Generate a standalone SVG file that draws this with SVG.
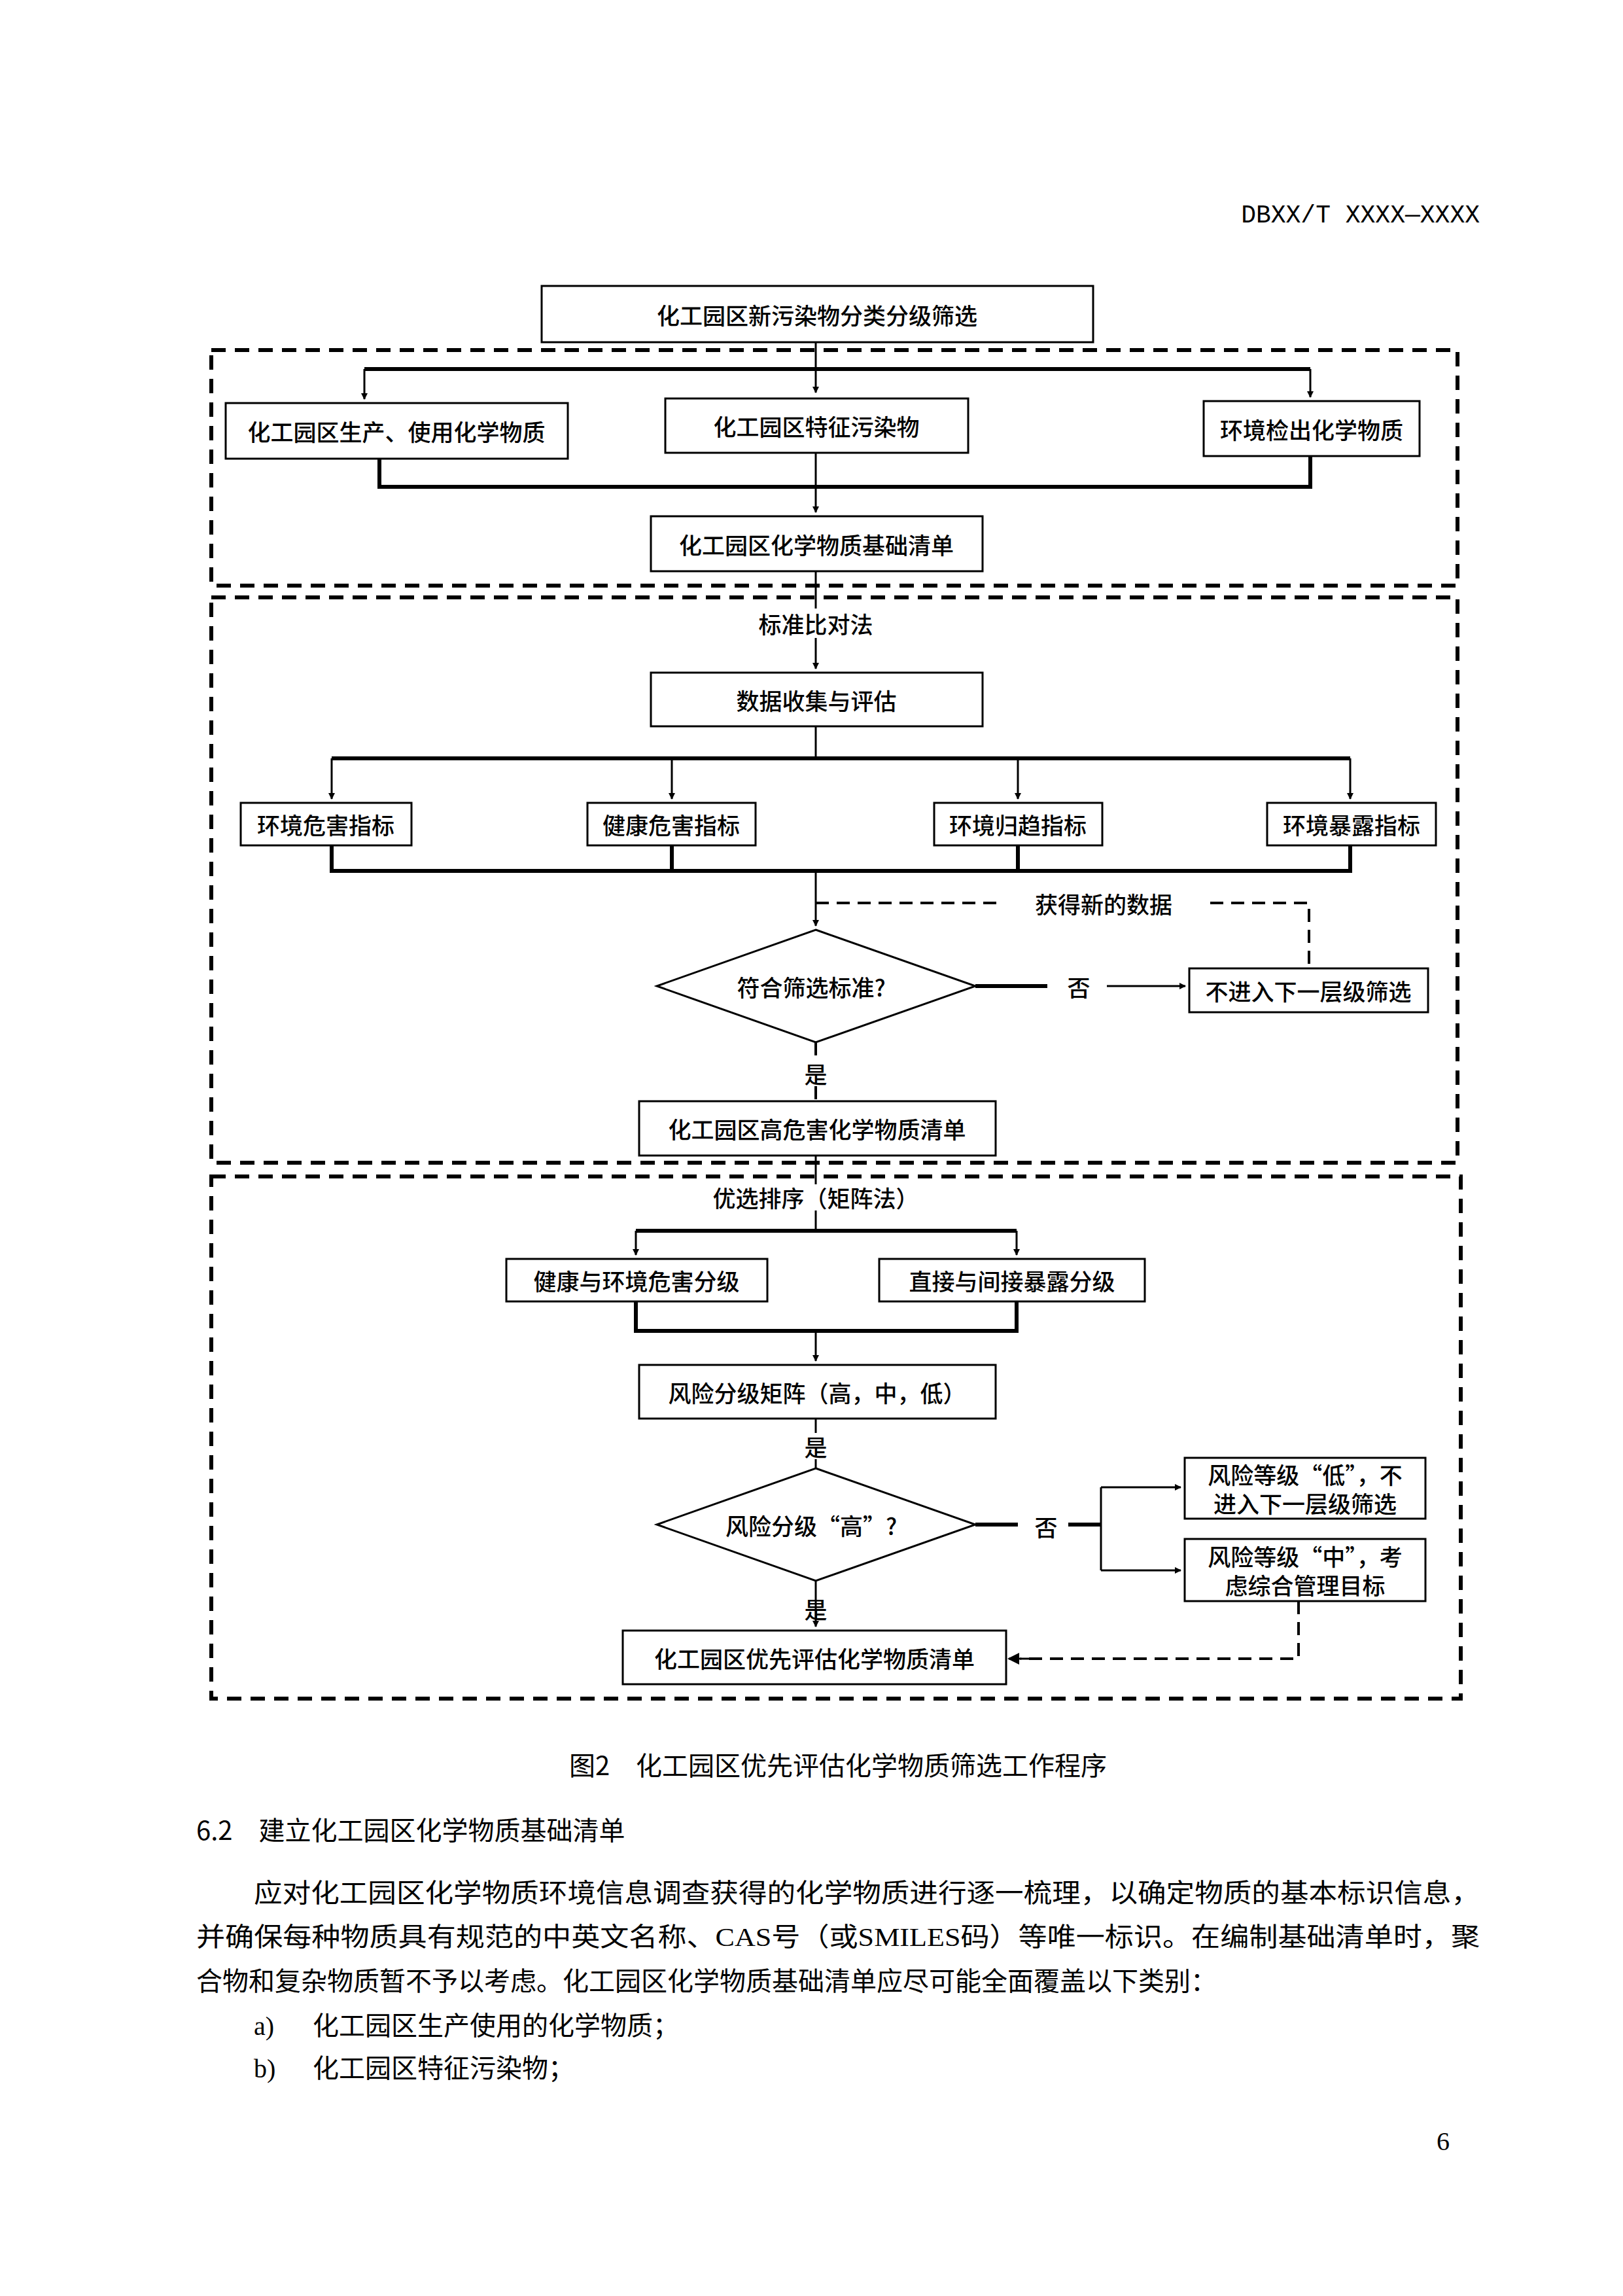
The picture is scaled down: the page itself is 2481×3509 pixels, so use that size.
<svg xmlns="http://www.w3.org/2000/svg" width="2481" height="3509" viewBox="0 0 2481 3509">
<style>
.n{fill:#fff;stroke:#000;stroke-width:3}
.t{font-family:"Noto Sans CJK SC",sans-serif;font-size:35px;font-weight:500;fill:#000;text-anchor:middle;dominant-baseline:central}
.b{font-family:"Liberation Serif","Noto Sans CJK SC",serif;font-size:40px;fill:#000}
.h{font-family:"Noto Sans CJK SC",sans-serif;font-size:40px;fill:#000}
.l{fill:none;stroke:#000;stroke-width:3}
.k{fill:none;stroke:#000;stroke-width:6}
.d{fill:none;stroke:#000;stroke-width:6;stroke-dasharray:22 14}
.dl{fill:none;stroke:#000;stroke-width:4;stroke-dasharray:20 12}
</style>
<defs><marker id="a" markerWidth="10" markerHeight="10" refX="9" refY="5" orient="auto" markerUnits="userSpaceOnUse" viewBox="0 0 10 10"><path d="M0,0L10,5L0,10z" fill="#000"/></marker>
<marker id="a2" markerWidth="18" markerHeight="18" refX="16" refY="9" orient="auto" markerUnits="userSpaceOnUse" viewBox="0 0 18 18"><path d="M0,0L18,9L0,18z" fill="#000"/></marker></defs>
<rect width="2481" height="3509" fill="#fff"/>
<text x="2262" y="340" class="h" text-anchor="end" style="font-family:'Liberation Mono',monospace;font-size:38px">DBXX/T XXXX—XXXX</text>
<g id="frames">
<rect x="323" y="535" width="1905" height="360" class="d"/>
<rect x="323" y="913" width="1905" height="864" class="d"/>
<rect x="323" y="1798" width="1910" height="798" class="d"/>
</g>
<g id="connectors">
<path d="M1247,523V600" class="l" marker-end="url(#a)"/>
<path d="M557,564H2003" class="k"/>
<path d="M557,564V610" class="l" marker-end="url(#a)"/>
<path d="M2003,564V607" class="l" marker-end="url(#a)"/>
<path d="M580,701V744H2003V697" class="k"/>
<path d="M1247,692V783" class="l" marker-end="url(#a)"/>
<path d="M1247,873V930" class="l"/>
<path d="M1247,975V1022" class="l" marker-end="url(#a)"/>
<path d="M1247,1110V1159" class="l"/>
<path d="M507,1159H2064" class="k"/>
<path d="M507,1159V1221" class="l" marker-end="url(#a)"/>
<path d="M1027,1159V1221" class="l" marker-end="url(#a)"/>
<path d="M1556,1159V1221" class="l" marker-end="url(#a)"/>
<path d="M2064,1159V1221" class="l" marker-end="url(#a)"/>
<path d="M507,1292V1331H2064V1292M1027,1292V1331M1556,1292V1331" class="k"/>
<path d="M1247,1331V1415" class="l" marker-end="url(#a)"/>
<path d="M1247,1380H1530M1850,1380H2001V1480" class="dl"/>
<path d="M1491,1507H1601" class="k"/>
<path d="M1692,1507H1812" class="l" marker-end="url(#a)"/>
<path d="M1247,1593V1620M1247,1660V1683" class="dl"/>
<path d="M1247,1766V1810" class="l"/>
<path d="M1247,1850V1881" class="l"/>
<path d="M972,1881H1554" class="k"/>
<path d="M972,1881V1918" class="l" marker-end="url(#a)"/>
<path d="M1554,1881V1918" class="l" marker-end="url(#a)"/>
<path d="M972,1989V2034H1554V1989" class="k"/>
<path d="M1247,2034V2080" class="l" marker-end="url(#a)"/>
<path d="M1247,2168V2190M1247,2230V2244" class="l"/>
<path d="M1491,2330H1556M1633,2330H1683" class="k"/>
<path d="M1683,2273V2400" class="l"/>
<path d="M1683,2273H1805" class="l" marker-end="url(#a)"/>
<path d="M1683,2400H1805" class="l" marker-end="url(#a)"/>
<path d="M1247,2416V2486" class="l" marker-end="url(#a)"/>
<path d="M1985,2447V2535H1560" class="dl"/>
<path d="M1575,2535H1542" class="l" marker-end="url(#a2)"/>
</g>
<g id="n1"><rect x="828" y="437" width="843" height="86" class="n"/><text x="1249" y="480" class="t">化工园区新污染物分类分级筛选</text></g>
<g id="n2"><rect x="345" y="616" width="523" height="85" class="n"/><text x="606" y="658" class="t">化工园区生产、使用化学物质</text></g>
<g id="n3"><rect x="1017" y="609" width="463" height="83" class="n"/><text x="1248" y="650" class="t">化工园区特征污染物</text></g>
<g id="n4"><rect x="1840" y="613" width="330" height="84" class="n"/><text x="2005" y="655" class="t">环境检出化学物质</text></g>
<g id="n5"><rect x="995" y="789" width="507" height="84" class="n"/><text x="1248" y="831" class="t">化工园区化学物质基础清单</text></g>
<text x="1247" y="952" class="t">标准比对法</text>
<g id="n6"><rect x="995" y="1028" width="507" height="82" class="n"/><text x="1248" y="1069" class="t">数据收集与评估</text></g>
<g id="n7"><rect x="368" y="1227" width="261" height="65" class="n"/><text x="498" y="1259" class="t">环境危害指标</text></g>
<g id="n8"><rect x="898" y="1227" width="257" height="65" class="n"/><text x="1026" y="1259" class="t">健康危害指标</text></g>
<g id="n9"><rect x="1428" y="1227" width="257" height="65" class="n"/><text x="1556" y="1259" class="t">环境归趋指标</text></g>
<g id="n10"><rect x="1937" y="1227" width="258" height="65" class="n"/><text x="2066" y="1259" class="t">环境暴露指标</text></g>
<text x="1687" y="1380" class="t">获得新的数据</text>
<g id="n11"><path d="M1247,1421L1491,1507L1247,1593L1004,1507Z" class="n"/><text x="1240" y="1507" class="t">符合筛选标准?</text></g>
<text x="1649" y="1507" class="t">否</text>
<g id="n12"><rect x="1818" y="1480" width="365" height="67" class="n"/><text x="2000" y="1513" class="t">不进入下一层级筛选</text></g>
<text x="1247" y="1640" class="t">是</text>
<g id="n13"><rect x="977" y="1683" width="545" height="83" class="n"/><text x="1249" y="1724" class="t">化工园区高危害化学物质清单</text></g>
<text x="1247" y="1829" class="t">优选排序（矩阵法）</text>
<g id="n14"><rect x="774" y="1924" width="399" height="65" class="n"/><text x="973" y="1956" class="t">健康与环境危害分级</text></g>
<g id="n15"><rect x="1344" y="1924" width="406" height="65" class="n"/><text x="1547" y="1956" class="t">直接与间接暴露分级</text></g>
<g id="n16"><rect x="977" y="2086" width="545" height="82" class="n"/><text x="1249" y="2127" class="t">风险分级矩阵（高，中，低）</text></g>
<text x="1247" y="2210" class="t">是</text>
<g id="n17"><path d="M1247,2244L1491,2330L1247,2416L1004,2330Z" class="n"/><text x="1240" y="2330" class="t">风险分级“高”?</text></g>
<text x="1599" y="2332" class="t">否</text>
<g id="n18"><rect x="1811" y="2228" width="368" height="93" class="n"/><text x="1995" y="2252" class="t">风险等级“低”，不</text><text x="1995" y="2296" class="t">进入下一层级筛选</text></g>
<g id="n19"><rect x="1811" y="2352" width="368" height="95" class="n"/><text x="1995" y="2377" class="t">风险等级“中”，考</text><text x="1995" y="2421" class="t">虑综合管理目标</text></g>
<text x="1247" y="2458" class="t">是</text>
<g id="n20"><rect x="952" y="2492" width="586" height="82" class="n"/><text x="1245" y="2533" class="t">化工园区优先评估化学物质清单</text></g>
<text x="1281" y="2713" class="h" text-anchor="middle">图2　化工园区优先评估化学物质筛选工作程序</text>
<text x="300" y="2812" class="h">6.2　建立化工园区化学物质基础清单</text>
<text x="388" y="2907" class="b" textLength="1874" lengthAdjust="spacingAndGlyphs">应对化工园区化学物质环境信息调查获得的化学物质进行逐一梳理，以确定物质的基本标识信息，</text>
<text x="300" y="2974" class="b" textLength="1962" lengthAdjust="spacingAndGlyphs">并确保每种物质具有规范的中英文名称、CAS号（或SMILES码）等唯一标识。在编制基础清单时，聚</text>
<text x="300" y="3042" class="b">合物和复杂物质暂不予以考虑。化工园区化学物质基础清单应尽可能全面覆盖以下类别：</text>
<text x="388" y="3110" class="b">a)</text><text x="478" y="3110" class="b">化工园区生产使用的化学物质；</text>
<text x="388" y="3175" class="b">b)</text><text x="478" y="3175" class="b">化工园区特征污染物；</text>
<text x="2206" y="3286" class="b" text-anchor="middle">6</text>
</svg>
